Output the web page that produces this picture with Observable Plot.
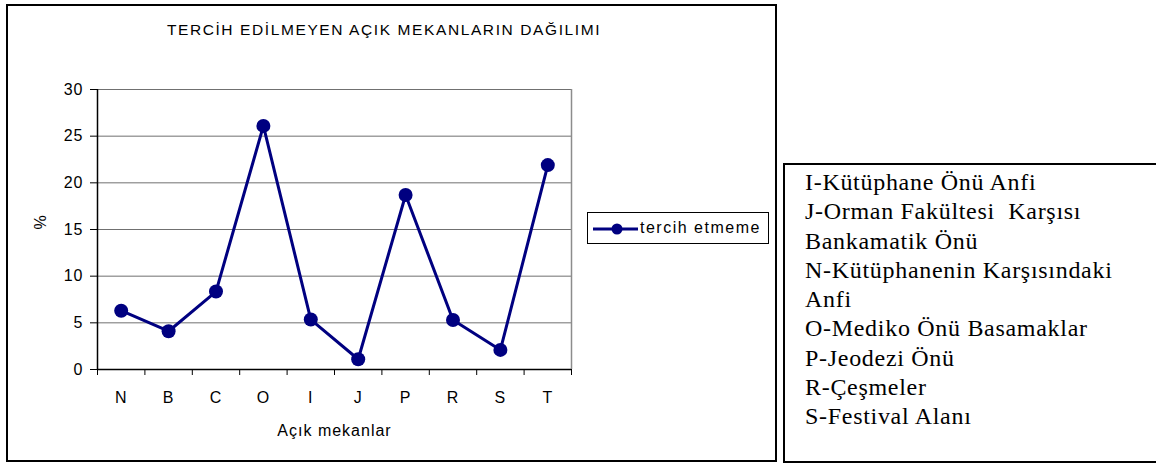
<!DOCTYPE html>
<html>
<head>
<meta charset="utf-8">
<script src="https://cdn.jsdelivr.net/npm/d3@7"></script>
<script src="https://cdn.jsdelivr.net/npm/@observablehq/plot@0.6"></script>
<style>
  html, body { margin: 0; padding: 0; background: #fff; }
  #wrap { position: relative; width: 1156px; height: 463px; overflow: hidden; font-family: "Liberation Sans", Arial, sans-serif; }
  #wrap svg.plot { position: absolute; left: 0; top: 0; }
  .frame { position: absolute; box-sizing: border-box; border: 2px solid #000; }
  #title { position: absolute; left: 0; width: 768px; top: 21px; text-align: center; font-size: 15.5px; letter-spacing: 1.6px; color: #000; }
  #legend { position: absolute; left: 587px; top: 212px; width: 182px; height: 32px; box-sizing: border-box; border: 1px solid #000; background: #fff; }
  #legend span { position: absolute; left: 52px; top: 6px; font-size: 16px; letter-spacing: 1.5px; }
  #notes { position: absolute; left: 805px; top: 168px; font-family: "Liberation Serif", "Times New Roman", serif; font-size: 24px; line-height: 29.3px; letter-spacing: 0.7px; white-space: pre; color: #000; }
</style>
</head>
<body>
<div id="wrap">
  <div class="frame" style="left:6px; top:4px; width:771px; height:458px;"></div>
  <div class="frame" style="left:783px; top:163px; width:380px; height:300px;"></div>
  <div id="title">TERCİH EDİLMEYEN AÇIK MEKANLARIN DAĞILIMI</div>
  <div id="legend">
    <svg width="50" height="30" style="position:absolute;left:0;top:0">
      <line x1="5" x2="50" y1="16" y2="16" stroke="#000080" stroke-width="3"></line>
      <circle cx="29" cy="16" r="5.5" fill="#000080"></circle>
    </svg>
    <span>tercih etmeme</span>
  </div>
  <div id="notes"></div>
</div>
<script>
const categories = ["N", "B", "C", "O", "I", "J", "P", "R", "S", "T"];
const values = [6.3, 4.1, 8.35, 26.1, 5.35, 1.1, 18.7, 5.3, 2.1, 21.9];
const yTicks = [0, 5, 10, 15, 20, 25, 30];
const seriesName = "tercih etmeme";
const noteLines = [
  "I-Kütüphane Önü Anfi",
  "J-Orman Fakültesi  Karşısı",
  "Bankamatik Önü",
  "N-Kütüphanenin Karşısındaki",
  "Anfi",
  "O-Mediko Önü Basamaklar",
  "P-Jeodezi Önü",
  "R-Çeşmeler",
  "S-Festival Alanı"
];

document.getElementById("notes").textContent = noteLines.join("\n");

const data = categories.map((c, i) => ({cat: c, idx: i, value: values[i]}));
const boundaries = d3.range(categories.length + 1);
const centers = categories.map((c, i) => i + 0.5);

const chart = Plot.plot({
  width: 1156,
  height: 463,
  marginLeft: 97,
  marginRight: 585,
  marginTop: 89,
  marginBottom: 94,
  style: {fontFamily: "'Liberation Sans', Arial, sans-serif", fontSize: "16px", letterSpacing: "1px", background: "transparent", overflow: "visible"},
  x: {type: "linear", domain: [0, categories.length]},
  y: {domain: [0, 30]},
  marks: [
    Plot.ruleY(yTicks.filter(v => v > 0), {stroke: "#707070", strokeWidth: 1, strokeOpacity: 1}),
    Plot.ruleX([categories.length], {stroke: "#8c8c8c", strokeWidth: 1.5, strokeOpacity: 1}),
    Plot.axisY({ticks: yTicks, tickSize: 7, tickPadding: 7, tickFormat: d => String(d), label: null, strokeOpacity: 1}),
    Plot.axisX({ticks: boundaries, tickSize: 6, tickFormat: () => "", label: null, strokeOpacity: 1}),
    Plot.axisX({ticks: centers, tickSize: 0, tickPadding: 22, tickFormat: d => categories[Math.floor(d)], label: null}),
    Plot.ruleX([0], {stroke: "#000", strokeWidth: 1.5}),
    Plot.ruleY([0], {stroke: "#000", strokeWidth: 1.5}),
    Plot.text(["Açık mekanlar"], {frameAnchor: "bottom", dy: 66, text: d => d, fontSize: 16}),
    Plot.text(["%"], {frameAnchor: "left", dx: -57, rotate: -90, text: d => d, fontSize: 16}),
    Plot.line(data, {x: d => d.idx + 0.5, y: "value", stroke: "#000080", strokeWidth: 3}),
    Plot.dot(data, {x: d => d.idx + 0.5, y: "value", r: 7, fill: "#000080", stroke: "none"})
  ]
});
chart.classList.add("plot");
document.getElementById("wrap").insertBefore(chart, document.getElementById("title"));
</script>
</body>
</html>
